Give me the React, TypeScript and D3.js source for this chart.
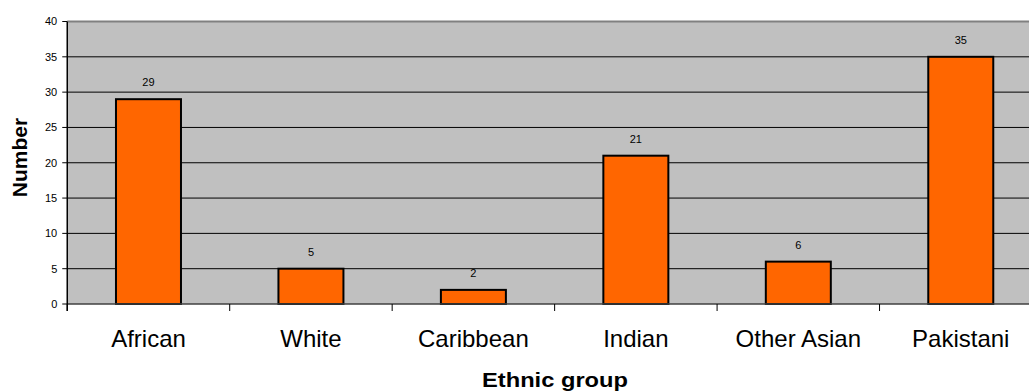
import React from "react";
import * as d3 from "d3";

const categories = ["African", "White", "Caribbean", "Indian", "Other Asian", "Pakistani"];
const values = [29, 5, 2, 21, 6, 35];
const yTicks = [0, 5, 10, 15, 20, 25, 30, 35, 40];

export default function App() {
  const W = 1029, H = 392;
  const left = 67.25, right = 1042, top = 21.5, bottom = 304;
  const x = d3.scaleBand<string>().domain(categories).range([left, right]).paddingInner(0).paddingOuter(0);
  const y = d3.scaleLinear().domain([0, 40]).range([bottom, top]);
  const barW = 65;
  const font = "Arial, 'Liberation Sans', sans-serif";
  return (
    <svg width={W} height={H} style={{ position: "absolute", left: 0, top: 0 }} fontFamily={font}>
      <rect x={left} y={top} width={right - left} height={bottom - top} fill="#C0C0C0" />
      {yTicks.map((t) => (
        <g key={t}>
          {t > 0 && t < 40 && <line x1={left} x2={right} y1={y(t)} y2={y(t)} stroke="#000" strokeWidth={1} />}
          <line x1={left - 5} x2={left} y1={y(t)} y2={y(t)} stroke="#000" strokeWidth={1} />
          <text x={left - 10} y={y(t)} dy="0.35em" textAnchor="end" fontSize={11} fill="#000">{t}</text>
        </g>
      ))}
      <line x1={left} x2={right} y1={top} y2={top} stroke="#808080" strokeWidth={2} />
      {categories.map((c, i) => {
        const cx = x(c)! + x.bandwidth() / 2;
        const v = values[i];
        return (
          <g key={c}>
            <rect x={cx - barW / 2} y={y(v)} width={barW} height={bottom - y(v)} fill="#FF6600" stroke="#000" strokeWidth={2} />
            <text x={cx} y={y(v) - 13} textAnchor="middle" fontSize={11} fill="#000">{v}</text>
            <text x={cx} y={347} textAnchor="middle" fontSize={24} fill="#000">{c}</text>
          </g>
        );
      })}
      <line x1={left} x2={right} y1={bottom} y2={bottom} stroke="#404040" strokeWidth={1.5} />
      {categories.map((c) => (
        <line key={c} x1={x(c)!} x2={x(c)!} y1={bottom} y2={bottom + 7} stroke="#000" strokeWidth={1} />
      ))}
      <line x1={left} x2={left} y1={top} y2={bottom + 7} stroke="#000" strokeWidth={1.5} />
      <text x={482} y={387} fontSize={21} fontWeight="bold" fill="#000" textLength={146} lengthAdjust="spacingAndGlyphs">Ethnic group</text>
      <text transform={`translate(26.5, 157.5) rotate(-90)`} textAnchor="middle" fontSize={21} fontWeight="bold" fill="#000">Number</text>
    </svg>
  );
}
